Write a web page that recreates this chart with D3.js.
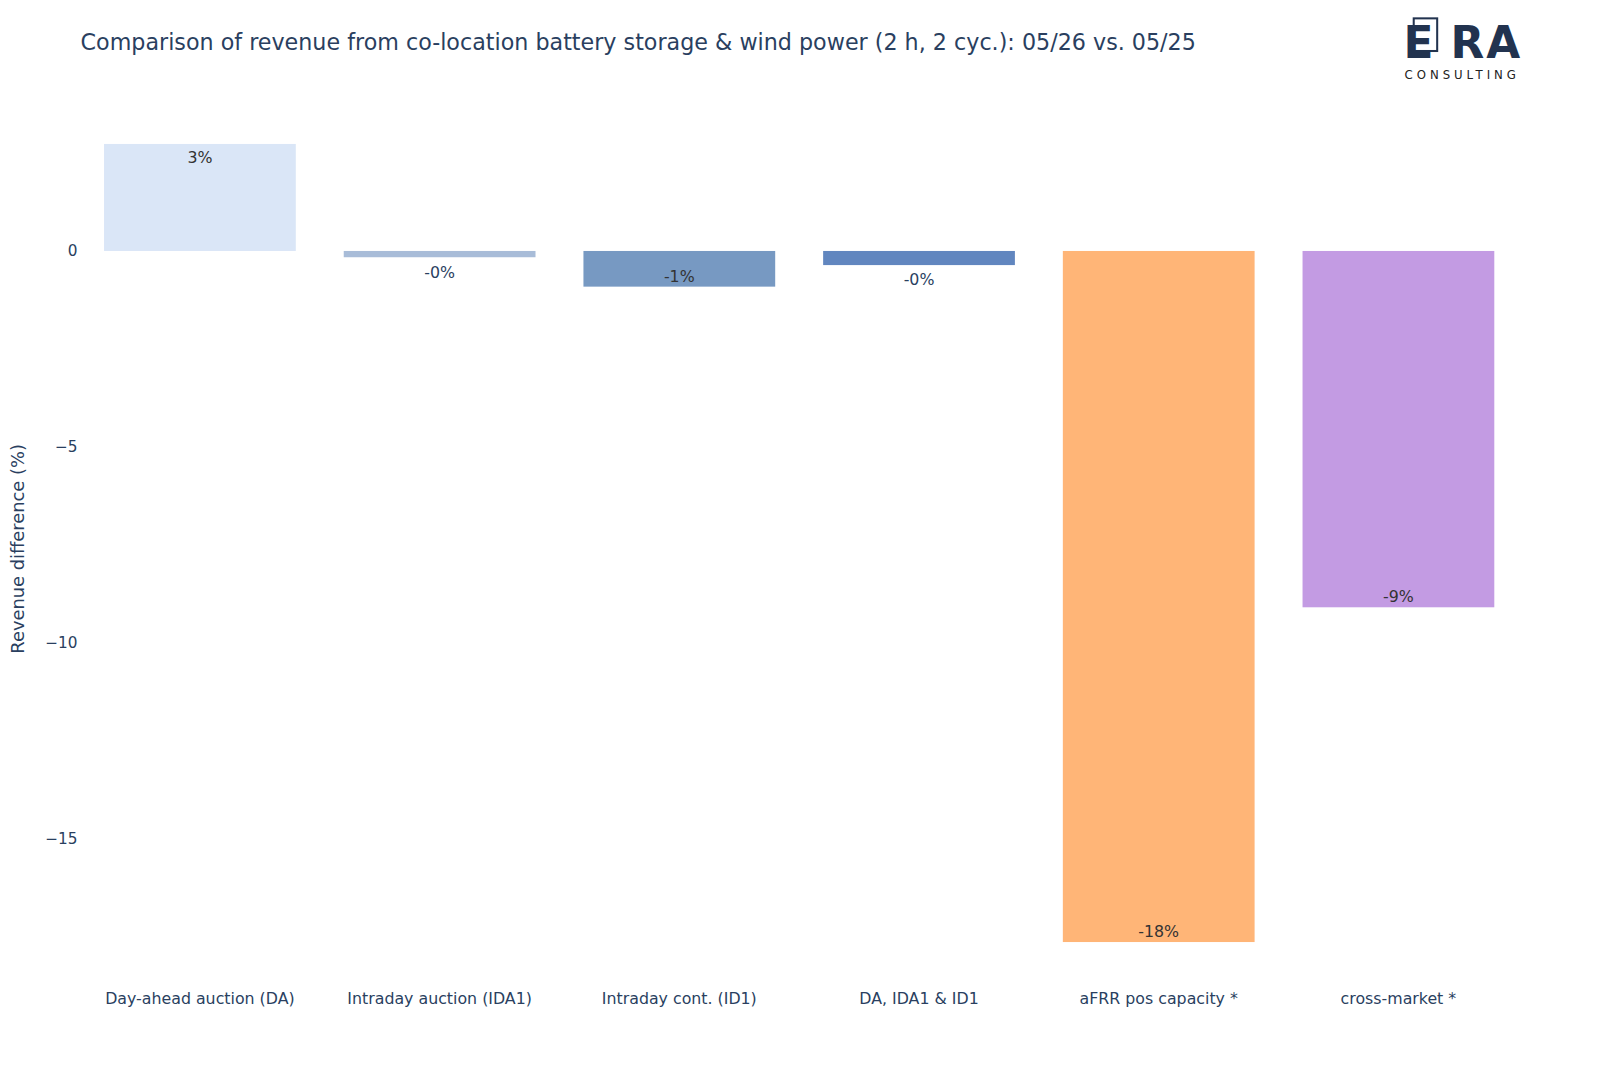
<!DOCTYPE html><html><head><meta charset="utf-8"><script src="https://cdn.jsdelivr.net/npm/d3@7"></script>
<style>body{margin:0;background:#fff}text{font-family:"DejaVu Sans",sans-serif}</style></head><body><svg id="c" width="1600" height="1067"></svg>
<script>
const categories=["Day-ahead auction (DA)","Intraday auction (IDA1)","Intraday cont. (ID1)","DA, IDA1 & ID1","aFRR pos capacity *","cross-market *"];
const values=[2.73,-0.16,-0.91,-0.36,-17.63,-9.09];
const labels=["3%","-0%","-1%","-0%","-18%","-9%"];
const colors=["#dae6f7","#a8bcd8","#7799c2","#6186bf","#ffb577","#c39be3"];
const yTicks=[0,-5,-10,-15];
const svg=d3.select("#c").append("g").attr("transform","scale(1.02)");
const x=d3.scaleBand().domain(categories).range([78.5,1488.5]).paddingInner(0.2).paddingOuter(0.1);
const y=d3.scaleLinear().domain([-18.5,3.28]).range([957,120]);
const ink="#2a3f5f";
svg.append("text").attr("x",79).attr("y",49).attr("fill",ink).attr("font-size",21.8).text("Comparison of revenue from co-location battery storage & wind power (2 h, 2 cyc.): 05/26 vs. 05/25");
yTicks.forEach(t=>svg.append("text").attr("x",76).attr("y",y(t)+5).attr("text-anchor","end").attr("fill",ink).attr("font-size",15).text(t<0?"\u2212"+(-t):t));
svg.append("text").attr("transform",`translate(24,${y(-7.6)}) rotate(-90)`).attr("text-anchor","middle").attr("fill",ink).attr("font-size",17.5).text("Revenue difference (%)");
categories.forEach((c,i)=>{
 const v=values[i];
 svg.append("rect").attr("x",x(c)).attr("width",x.bandwidth()).attr("y",y(Math.max(0,v))).attr("height",Math.abs(y(v)-y(0))).attr("fill",colors[i]);
 const inside=Math.abs(y(v)-y(0))>=20;
 const ly=v>0?y(v)+19:(inside?y(v)-5:y(v)+20);
 svg.append("text").attr("x",x(c)+x.bandwidth()/2).attr("y",ly).attr("text-anchor","middle").attr("fill",inside||v>0?"#333":ink).attr("font-size",15.5).text(labels[i]);
 svg.append("text").attr("x",x(c)+x.bandwidth()/2).attr("y",984).attr("text-anchor","middle").attr("fill",ink).attr("font-size",15.5).text(c);
});
const g=svg.append("g");
g.append("rect").attr("x",1386).attr("y",18).attr("width",23).attr("height",32).attr("fill","none").attr("stroke","#22334f").attr("stroke-width",2);
["E","R","A"].forEach((l,i)=>g.append("text").attr("x",[1376,1422,1457][i]).attr("y",57).attr("font-size",43).attr("font-weight",900).attr("fill","#22334f").attr("font-family","Roboto").text(l));
g.append("text").attr("x",1377).attr("y",77).attr("font-size",11.5).attr("letter-spacing",3.9).attr("fill","#222").attr("font-family","Roboto").text("CONSULTING");
</script></body></html>
